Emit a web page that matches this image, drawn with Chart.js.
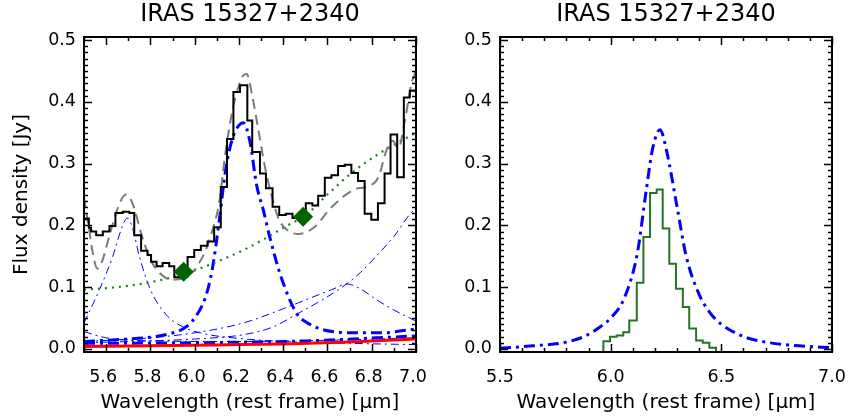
<!DOCTYPE html>
<html>
<head>
<meta charset="utf-8">
<script src="https://cdn.jsdelivr.net/npm/chart.js@4.4.0/dist/chart.umd.min.js"></script>
<style>
  body { margin: 0; background: #fff; }
  .panel { position: absolute; top: 0; }
</style>
</head>
<body>
<canvas id="leftChart" class="panel" width="430" height="418" style="left:0"></canvas>
<canvas id="rightChart" class="panel" width="424" height="418" style="left:425px"></canvas>
<script>
// tick labels
const leftXTicks = [5.6, 5.8, 6.0, 6.2, 6.4, 6.6, 6.8, 7.0];
const rightXTicks = [5.5, 6.0, 6.5, 7.0];
const yTicks = [0.0, 0.1, 0.2, 0.3, 0.4, 0.5];
const panelTitle = 'IRAS 15327+2340';

// left panel: observed spectrum (bin left edges, last point closes the last bin)
const obsWave = [5.500, 5.522, 5.532, 5.555, 5.585, 5.615, 5.642, 5.675, 5.705, 5.727,
  5.758, 5.787, 5.803, 5.828, 5.855, 5.885, 5.908, 5.938, 5.968, 5.998,
  6.028, 6.058, 6.088, 6.118, 6.146, 6.175, 6.205, 6.238, 6.260, 6.295,
  6.322, 6.352, 6.382, 6.412, 6.442, 6.472, 6.502, 6.532, 6.558, 6.588,
  6.618, 6.648, 6.678, 6.708, 6.738, 6.768, 6.798, 6.828, 6.858, 6.885,
  6.915, 6.945, 6.972, 7.000];
const obsFlux = [0.211, 0.196, 0.190, 0.184, 0.190, 0.199, 0.220, 0.222, 0.220, 0.184,
  0.159, 0.152, 0.141, 0.134, 0.139, 0.134, 0.116, 0.117, 0.149, 0.160,
  0.167, 0.174, 0.197, 0.262, 0.340, 0.416, 0.427, 0.370, 0.319, 0.284,
  0.260, 0.230, 0.217, 0.219, 0.212, 0.212, 0.236, 0.232, 0.248, 0.277,
  0.281, 0.296, 0.298, 0.285, 0.272, 0.219, 0.209, 0.236, 0.284, 0.347,
  0.278, 0.407, 0.418, 0.418];

// total fit (grey dashed)
const fitWave = [5.50, 5.52, 5.54, 5.56, 5.58, 5.62, 5.66, 5.69, 5.72, 5.76, 5.80, 5.85, 5.90, 5.95,
  6.00, 6.02, 6.05, 6.08, 6.11, 6.14, 6.17, 6.19, 6.22, 6.235, 6.26, 6.29, 6.32, 6.35, 6.38,
  6.42, 6.47, 6.54, 6.62, 6.72, 6.78, 6.83, 6.87, 6.895, 6.92, 6.95, 6.98, 7.00];
const fitFlux = [0.245, 0.200, 0.155, 0.130, 0.140, 0.190, 0.235, 0.250, 0.235, 0.185, 0.145, 0.120, 0.112, 0.115,
  0.128, 0.139, 0.160, 0.192, 0.235, 0.320, 0.385, 0.415, 0.443, 0.445, 0.410, 0.350, 0.290, 0.245, 0.210,
  0.192, 0.186, 0.197, 0.230, 0.258, 0.263, 0.278, 0.325, 0.337, 0.325, 0.370, 0.430, 0.450];

// continuum (green dotted) and its anchor points
const contWave = [5.50, 5.65, 5.80, 5.95, 6.08, 6.22, 6.31, 6.42, 6.50, 6.60, 6.72, 6.85, 7.00];
const contFlux = [0.096, 0.100, 0.108, 0.121, 0.138, 0.160, 0.177, 0.200, 0.216, 0.250, 0.288, 0.320, 0.350];
const anchorWave = [5.95, 6.49];
const anchorFlux = [0.125, 0.214];

// 6.2 um feature (thick blue)
const pah62Wave = [5.50, 5.60, 5.70, 5.80, 5.88, 5.95, 6.00, 6.05, 6.08, 6.11, 6.14, 6.17, 6.20, 6.22,
  6.25, 6.28, 6.31, 6.34, 6.39, 6.46, 6.52, 6.58, 6.65, 6.72, 6.85, 6.97, 7.00];
const pah62Flux = [0.012, 0.014, 0.016, 0.019, 0.024, 0.033, 0.050, 0.085, 0.130, 0.205, 0.290, 0.340, 0.362, 0.366,
  0.335, 0.265, 0.225, 0.180, 0.117, 0.058, 0.040, 0.031, 0.027, 0.026, 0.026, 0.031, 0.032];

// other components (thin blue)
const pah57Wave = [5.50, 5.57, 5.63, 5.67, 5.695, 5.72, 5.75, 5.80, 5.87, 5.95, 6.05, 6.20, 6.40, 6.70, 7.00];
const pah57Flux = [0.042, 0.096, 0.150, 0.195, 0.212, 0.195, 0.150, 0.096, 0.056, 0.035, 0.024, 0.017, 0.012, 0.009, 0.007];
const pah67Wave = [5.50, 5.80, 6.00, 6.22, 6.40, 6.52, 6.62, 6.69, 6.75, 6.82, 6.90, 7.00];
const pah67Flux = [0.012, 0.018, 0.026, 0.042, 0.065, 0.082, 0.096, 0.105, 0.097, 0.080, 0.063, 0.045];
const pah77Wave = [5.50, 5.80, 6.00, 6.22, 6.35, 6.46, 6.57, 6.67, 6.75, 6.82, 6.90, 6.97, 7.00];
const pah77Flux = [0.010, 0.013, 0.016, 0.023, 0.035, 0.056, 0.078, 0.101, 0.124, 0.150, 0.182, 0.217, 0.228];
const lowWave = [5.50, 5.60, 5.80, 6.20, 6.60, 7.00];
const lowFlux = [0.028, 0.018, 0.013, 0.012, 0.014, 0.018];
const baseWave = [5.50, 6.00, 6.50, 7.00];
const baseFlux = [0.009, 0.010, 0.013, 0.021];

// stellar / red component
const redWave = [5.5, 5.8, 6.1, 6.4, 6.7, 7.0];
const redFlux = [0.004, 0.005, 0.0065, 0.008, 0.011, 0.016];

// right panel: residual spectrum (green) and 6.2 um profile (blue)
const resWave = [5.967, 5.967, 5.997, 6.027, 6.057, 6.084, 6.118, 6.148, 6.178, 6.208,
  6.235, 6.265, 6.295, 6.326, 6.355, 6.386, 6.416, 6.446, 6.476, 6.476];
const resFlux = [-0.01, 0.0126, 0.0197, 0.0218, 0.027, 0.046, 0.107, 0.181, 0.2525, 0.258,
  0.195, 0.138, 0.0974, 0.068, 0.033, 0.0137, 0.010, 0.002, 0.002, -0.01];
const lorWave = [5.50, 5.65, 5.80, 5.88, 5.95, 6.00, 6.06, 6.12, 6.16, 6.19, 6.223, 6.25, 6.30,
  6.34, 6.40, 6.45, 6.50, 6.60, 6.70, 6.85, 7.00];
const lorFlux = [0.001, 0.005, 0.011, 0.020, 0.035, 0.050, 0.081, 0.154, 0.255, 0.325, 0.355, 0.325, 0.230,
  0.152, 0.088, 0.058, 0.040, 0.020, 0.011, 0.005, 0.002];

function xy(xs, ys) {
  return xs.map((x, i) => ({x: x, y: ys[i]}));
}

Chart.defaults.font.family = "'DejaVu Sans', sans-serif";
Chart.defaults.color = '#000';

const BLUE = '#0000ff';
const dashDot = [8, 4, 2, 4];
const thickDashDot = [11, 5, 3, 5];

// box frame with inward major/minor ticks on all sides, plus the panel title
const frameTicks = {
  id: 'frameTicks',
  afterDatasetsDraw(chart, args, opts) {
    const ctx = chart.ctx, a = chart.chartArea;
    const xs = chart.scales.x, ys = chart.scales.y;
    ctx.save();
    ctx.strokeStyle = '#000';
    ctx.lineWidth = 1.5;
    ctx.beginPath();
    function xMark(v, len) {
      const p = Math.round(xs.getPixelForValue(v)) + 0.5;
      ctx.moveTo(p, a.bottom); ctx.lineTo(p, a.bottom - len);
      ctx.moveTo(p, a.top); ctx.lineTo(p, a.top + len);
    }
    function yMark(v, len) {
      const p = Math.round(ys.getPixelForValue(v)) + 0.5;
      ctx.moveTo(a.left, p); ctx.lineTo(a.left + len, p);
      ctx.moveTo(a.right, p); ctx.lineTo(a.right - len, p);
    }
    for (let k = 0; k <= 15; k++) xMark(5.5 + k * 0.1, 4);
    opts.xMajor.forEach(v => xMark(v, 8));
    for (let k = 0; k <= 50; k++) yMark(k * 0.01, 4);
    yTicks.forEach(v => yMark(v, 8));
    ctx.stroke();
    ctx.lineWidth = 2;
    ctx.strokeRect(a.left, a.top, a.right - a.left, a.bottom - a.top);

    ctx.fillStyle = '#000';
    ctx.font = "24px 'DejaVu Sans', sans-serif";
    ctx.textAlign = 'center';
    ctx.textBaseline = 'middle';
    ctx.fillText(panelTitle, (a.left + a.right) / 2, 15);
    ctx.restore();
  }
};

function lineSet(data, color, width, dash, extra) {
  return Object.assign({
    data: data, borderColor: color, borderWidth: width, borderDash: dash || [],
    pointRadius: 0, fill: false, cubicInterpolationMode: 'monotone', tension: 0.4
  }, extra || {});
}

function makeOptions(xTicks, yWidth, showYTitle, padRight, xLabelShift) {
  return {
    responsive: false,
    animation: false,
    devicePixelRatio: 1,
    layout: { padding: { left: 0, right: padRight, top: 37, bottom: 0 } },
    plugins: {
      legend: { display: false },
      tooltip: { enabled: false },
      title: { display: false },
      frameTicks: { xMajor: xTicks }
    },
    scales: {
      x: {
        type: 'linear', min: 5.5, max: 7.0,
        afterBuildTicks: s => { s.ticks = xTicks.map(v => ({value: v})); },
        afterFit: s => { s.height = 66; s.paddingLeft = 0; s.paddingRight = 0; },
        grid: { display: false, drawTicks: false },
        border: { display: false },
        ticks: { padding: 15, autoSkip: false, maxRotation: 0, font: { size: 17.5 },
          labelOffset: xLabelShift, callback: v => v.toFixed(1) },
        title: { display: true, text: 'Wavelength (rest frame) [\u03bcm]',
          font: { size: 20 }, padding: { top: 0, bottom: 3 } }
      },
      y: {
        type: 'linear', min: -0.005, max: 0.505,
        afterBuildTicks: s => { s.ticks = yTicks.map(v => ({value: v})); },
        afterFit: s => { s.width = yWidth; s.paddingTop = 0; s.paddingBottom = 0; },
        grid: { display: false, drawTicks: false },
        border: { display: false },
        ticks: { padding: 8, autoSkip: false, font: { size: 17.5 },
          callback: v => v.toFixed(1) },
        title: { display: showYTitle, text: 'Flux density [Jy]',
          font: { size: 20 }, padding: { top: 10, bottom: 0 } }
      }
    }
  };
}

new Chart(document.getElementById('leftChart'), {
  type: 'line',
  data: {
    datasets: [
      { type: 'scatter', data: xy(anchorWave, anchorFlux), pointStyle: 'rectRot', pointRadius: 10,
        backgroundColor: '#006400', borderColor: '#006400', borderWidth: 0, showLine: false },
      lineSet(xy(obsWave, obsFlux), '#000', 2, [], { stepped: true, tension: 0, cubicInterpolationMode: 'default' }),
      lineSet(xy(fitWave, fitFlux), '#7a7a7a', 2, [10, 6]),
      lineSet(xy(contWave, contFlux), '#1f7f1f', 2.2, [2, 5]),
      lineSet(xy(redWave, redFlux), '#ff0000', 3),
      lineSet(xy(pah62Wave, pah62Flux), BLUE, 3, thickDashDot),
      lineSet(xy(baseWave, baseFlux), BLUE, 3, thickDashDot),
      lineSet(xy(pah57Wave, pah57Flux), BLUE, 1, dashDot),
      lineSet(xy(pah67Wave, pah67Flux), BLUE, 1, dashDot),
      lineSet(xy(pah77Wave, pah77Flux), BLUE, 1, dashDot),
      lineSet(xy(lowWave, lowFlux), BLUE, 1, dashDot)
    ]
  },
  options: makeOptions(leftXTicks, 84, true, 14, -3),
  plugins: [frameTicks]
});

new Chart(document.getElementById('rightChart'), {
  type: 'line',
  data: {
    datasets: [
      lineSet(xy(resWave, resFlux), '#267326', 2, [], { stepped: true, tension: 0, cubicInterpolationMode: 'default' }),
      lineSet(xy(lorWave, lorFlux), BLUE, 3, thickDashDot)
    ]
  },
  options: makeOptions(rightXTicks, 75, false, 17, 0),
  plugins: [frameTicks]
});
</script>
</body>
</html>
